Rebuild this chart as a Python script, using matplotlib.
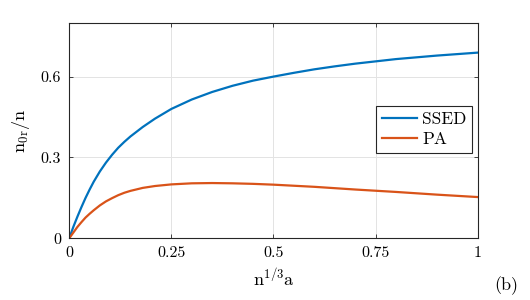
import matplotlib
matplotlib.use("Agg")
import matplotlib.pyplot as plt
from matplotlib import rcParams

# values
x = [0, 0.01, 0.02, 0.03, 0.04, 0.05, 0.06, 0.075, 0.09, 0.105, 0.12, 0.135,
     0.15, 0.18, 0.21, 0.25, 0.3, 0.35, 0.4, 0.45, 0.5, 0.55, 0.6, 0.65, 0.7,
     0.8, 0.9, 1.0]
ssed = [0, 0.042, 0.08, 0.116, 0.15, 0.181, 0.21, 0.248, 0.281, 0.31, 0.336,
        0.358, 0.378, 0.413, 0.444, 0.48, 0.515, 0.543, 0.566, 0.585, 0.600,
        0.614, 0.627, 0.638, 0.648, 0.665, 0.678, 0.689]
pa = [0, 0.021, 0.042, 0.06, 0.077, 0.091, 0.104, 0.122, 0.137, 0.149, 0.16,
      0.169, 0.176, 0.187, 0.194, 0.200, 0.204, 0.205, 0.204, 0.202, 0.199,
      0.195, 0.191, 0.186, 0.181, 0.172, 0.162, 0.153]

xticks = [0, 0.25, 0.5, 0.75, 1]
xticklabels = ["0", "0.25", "0.5", "0.75", "1"]
yticks = [0, 0.3, 0.6]
yticklabels = ["0", "0.3", "0.6"]

rcParams['font.family'] = 'serif'
rcParams['font.serif'] = ['cmr10']
rcParams['mathtext.fontset'] = 'cm'
rcParams['axes.unicode_minus'] = False

fig = plt.figure(figsize=(5.3, 3.0), dpi=100)
ax = fig.add_axes([0.1306, 0.2057, 0.7707, 0.7186])

ax.plot(x, ssed, color="#0072BD", lw=1.6, label="SSED")
ax.plot(x, pa, color="#D95319", lw=1.6, label="PA")

ax.set_xlim(0, 1)
ax.set_ylim(0, 0.8)
ax.set_xticks(xticks)
ax.set_xticklabels(xticklabels)
ax.set_yticks(yticks)
ax.set_yticklabels(yticklabels)
ax.tick_params(direction='in', top=True, right=True, length=3, width=0.6,
               labelsize=11.5, color="#262626", pad=6)
ax.grid(True, color="#e3e3e3", lw=0.7)
ax.set_axisbelow(True)
for s in ax.spines.values():
    s.set_color("#262626")
    s.set_linewidth(0.8)

ax.set_xlabel(r"$\mathrm{n^{1/3}a}$", fontsize=13, labelpad=4)
ax.set_ylabel(r"$\mathrm{n_{0r}/n}$", fontsize=13, labelpad=6)

leg = ax.legend(loc='upper right', bbox_to_anchor=(0.987, 0.615),
                borderaxespad=0, fancybox=False, fontsize=12.5,
                handlelength=2.0, handletextpad=0.3, borderpad=0.35,
                labelspacing=0.25, framealpha=1)
leg.get_frame().set_edgecolor("#262626")
leg.get_frame().set_linewidth(0.8)

fig.text(0.977, 0.048, "(b)", fontsize=13, ha='right', va='center')

fig.savefig("out.png", dpi=100)
